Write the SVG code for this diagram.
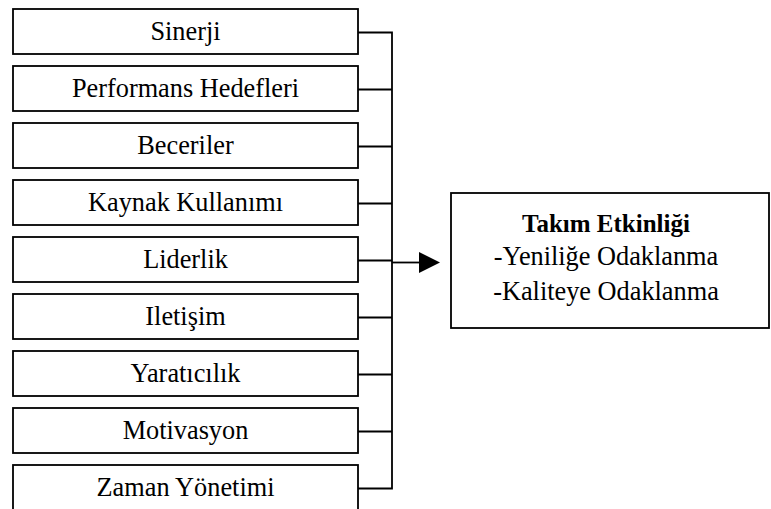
<svg xmlns="http://www.w3.org/2000/svg" width="771" height="509" viewBox="0 0 771 509">
<style>
.box{fill:#fff;stroke:#000;stroke-width:1.8}
.t{font-family:"Liberation Serif","Times New Roman",serif;font-size:26.3px;fill:#000;text-anchor:middle}
.b{font-weight:bold;font-size:25px}
.c{fill:none;stroke:#000;stroke-width:1.8}
</style>
<rect width="771" height="509" fill="#fff"/>
<g id="n1"><rect class="box" x="13" y="9" width="345" height="45"/><text class="t" x="185.5" y="40">Sinerji</text></g>
<g id="n2"><rect class="box" x="13" y="66" width="345" height="45"/><text class="t" x="185.5" y="97">Performans Hedefleri</text></g>
<g id="n3"><rect class="box" x="13" y="123" width="345" height="45"/><text class="t" x="185.5" y="154">Beceriler</text></g>
<g id="n4"><rect class="box" x="13" y="180" width="345" height="45"/><text class="t" x="185.5" y="211">Kaynak Kullanımı</text></g>
<g id="n5"><rect class="box" x="13" y="237" width="345" height="45"/><text class="t" x="185.5" y="268">Liderlik</text></g>
<g id="n6"><rect class="box" x="13" y="294" width="345" height="45"/><text class="t" x="185.5" y="325">Iletişim</text></g>
<g id="n7"><rect class="box" x="13" y="351" width="345" height="45"/><text class="t" x="185.5" y="382">Yaratıcılık</text></g>
<g id="n8"><rect class="box" x="13" y="408" width="345" height="45"/><text class="t" x="185.5" y="439">Motivasyon</text></g>
<g id="n9"><rect class="box" x="13" y="465" width="345" height="46"/><text class="t" x="185.5" y="496">Zaman Yönetimi</text></g>
<g id="result"><rect class="box" x="451" y="193" width="318" height="135"/>
<text class="t b" x="606" y="232">Takım Etkinliği</text>
<text class="t" x="606" y="265">-Yeniliğe Odaklanma</text>
<text class="t" x="606" y="300">-Kaliteye Odaklanma</text></g>
<g id="connectors">
<path class="c" d="M358 32.5H392M358 89.5H392M358 146.5H392M358 203.5H392M358 260.5H392M358 317.5H392M358 374.5H392M358 431.5H392M358 488.5H392M392 31.6V489.4"/>
<path class="c" d="M392 262.5H421"/>
<polygon points="419,252 440,262.5 419,273" fill="#000"/>
</g>
</svg>
